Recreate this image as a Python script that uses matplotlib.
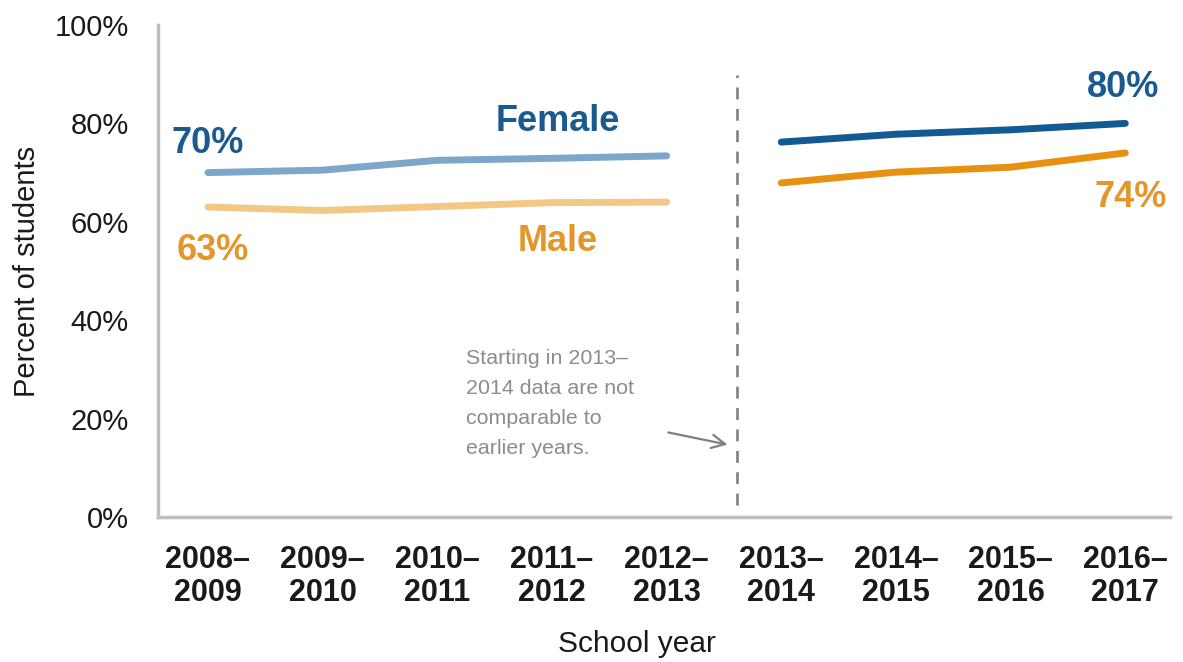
import matplotlib
matplotlib.use("Agg")
import matplotlib.pyplot as plt

plt.rcParams['font.family'] = ['Liberation Sans', 'DejaVu Sans']

years = ["2008–\n2009", "2009–\n2010", "2010–\n2011", "2011–\n2012", "2012–\n2013",
         "2013–\n2014", "2014–\n2015", "2015–\n2016", "2016–\n2017"]
female_old = [70, 70.5, 72.5, 72.9, 73.4]
male_old = [63, 62.3, 63.1, 63.9, 64.0]
female_new = [76.2, 77.8, 78.7, 80]
male_new = [67.9, 70.1, 71.1, 74]
yticks = [0, 20, 40, 60, 80, 100]
ytick_labels = ["0%", "20%", "40%", "60%", "80%", "100%"]

fem_light, fem_dark = "#7EA6CA", "#135A94"
male_light, male_dark = "#F3C886", "#E8900F"
label_blue, label_orange = "#1B5A8F", "#E3962A"
txt = '#1a1a1a'

fig = plt.figure(figsize=(11.83, 6.62), dpi=100)
ax = fig.add_axes([158/1183, (662-517)/662, (1170-158)/1183, (517-25)/662])

x_old = list(range(5))
x_new = list(range(5, 9))
lw = 5.0
ax.plot(x_old, female_old, color=fem_light, lw=lw, solid_capstyle='round')
ax.plot(x_old, male_old, color=male_light, lw=lw, solid_capstyle='round')
ax.plot(x_new, female_new, color=fem_dark, lw=lw, solid_capstyle='round')
ax.plot(x_new, male_new, color=male_dark, lw=lw, solid_capstyle='round')

ax.set_xlim(-0.436, 8.39)
ax.set_ylim(0, 100)
ax.set_xticks(range(len(years)))
ax.set_xticklabels(years, fontsize=22, fontweight='bold', color=txt, linespacing=1.12)
ax.set_yticks(yticks)
ax.set_yticklabels(ytick_labels, fontsize=21, color=txt)
ax.tick_params(axis='both', length=0)
ax.tick_params(axis='x', pad=20)
ax.tick_params(axis='y', pad=21)

for s in ['top', 'right']:
    ax.spines[s].set_visible(False)
for s in ['left', 'bottom']:
    ax.spines[s].set_color('#BFBFBF')
    ax.spines[s].set_linewidth(2.5)

ax.set_ylabel("Percent of students", fontsize=21, color=txt, labelpad=10)
ax.set_xlabel("School year", fontsize=21.5, color=txt)
ax.xaxis.set_label_coords(0.473, -0.229)

# series labels
bold = dict(fontsize=26, fontweight='bold', ha='center', va='center')
ax.text(0, 76, f"{female_old[0]:.0f}%", color=label_blue, **bold)
ax.text(0.04, 54.2, f"{male_old[0]:.0f}%", color=label_orange, **bold)
ax.text(3.05, 80.3, "Female", color=label_blue, **bold)
ax.text(3.05, 55.9, "Male", color=label_orange, **bold)
ax.text(7.98, 87.2, f"{female_new[-1]:.0f}%", color=label_blue, **bold)
ax.text(8.05, 65.0, f"{male_new[-1]:.0f}%", color=label_orange, **bold)

# break between non-comparable periods
ax.plot([4.616, 4.616], [2.4, 89.8], color='#808080', lw=1.9, ls=(0, (4.5, 3.6)))
ax.text(2.25, 34.2, "Starting in 2013–\n2014 data are not\ncomparable to\nearlier years.",
        color='#8C8C8C', fontsize=15.4, ha='left', va='top', linespacing=1.73)
ax.annotate("", xy=(4.555, 14.6), xytext=(3.99, 17.3),
            arrowprops=dict(arrowstyle='->', color='#7F7F7F', lw=1.6, mutation_scale=24))

fig.savefig("out.png", dpi=100, facecolor='white')
